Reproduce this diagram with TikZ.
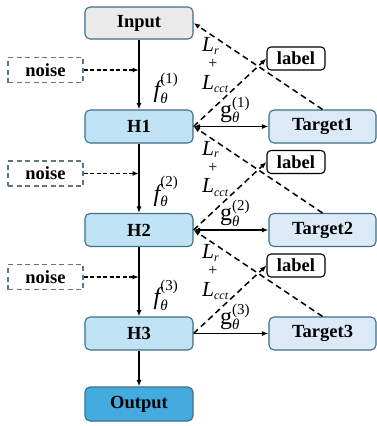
\documentclass[tikz,border=0pt]{standalone}
\usepackage{fontspec}
\setmainfont{Liberation Serif}
\usetikzlibrary{arrows.meta}

\definecolor{boxline}{HTML}{3E6E88}
\definecolor{inputfill}{HTML}{EAEAEA}
\definecolor{hiddenfill}{HTML}{BFE3F4}
\definecolor{targetfill}{HTML}{DCEAF7}
\definecolor{outputfill}{HTML}{44ABDF}
\definecolor{noiseline}{HTML}{5E7685}

% math-like labels set in the text font
\newcommand\bigit[1]{\mbox{\fontsize{24}{24}\selectfont\itshape #1}}
\newcommand\smallup[1]{\mbox{\fontsize{15}{15}\selectfont #1}}
\newcommand\smallit[1]{\mbox{\fontsize{15}{15}\selectfont\itshape #1}}
\newcommand\lossL{\mbox{\fontsize{21.5}{21.5}\selectfont\itshape L}}
\newcommand\lossidx[1]{\mbox{\fontsize{12}{12}\selectfont\itshape #1}}
\newcommand\encsym[1]{$\bigit{f}^{\smallup{(#1)}}_{\smallit{θ}}$}
\newcommand\decsym[1]{$\mbox{\fontsize{24}{24}\selectfont g}^{\smallup{(#1)}}_{\smallit{θ}}$}
\newcommand\lossr{$\lossL_{\lossidx{r}}$}
\newcommand\losscct{$\lossL_{\lossidx{cct}}$}

\tikzset{
  block/.style={draw=boxline, line width=1.1pt, rounded corners=5pt,
    minimum width=108pt, minimum height=33pt, inner sep=0pt,
    font=\fontsize{18.5}{18.5}\selectfont\bfseries},
  inputbox/.style={block, fill=inputfill, minimum height=32pt},
  hiddenbox/.style={block, fill=hiddenfill},
  targetbox/.style={block, fill=targetfill, minimum width=107pt},
  outputbox/.style={block, fill=outputfill, minimum height=34pt},
  noisebox/.style={draw=noiseline, line width=1.1pt, dash pattern=on 5pt off 3.5pt,
    minimum width=75pt, minimum height=25pt, inner sep=0pt,
    font=\fontsize{18.5}{18.5}\selectfont\bfseries},
  labelbox/.style={draw=black, line width=1.1pt, rounded corners=4pt, fill=white,
    minimum width=58pt, minimum height=23pt, inner sep=0pt,
    font=\fontsize{18.5}{18.5}\selectfont\bfseries},
  tip/.style={-{Latex[length=6.5pt,width=5pt]}},
  flow/.style={tip, line width=1.3pt},
  both/.style={{Latex[length=6.5pt,width=5pt]}-{Latex[length=6.5pt,width=5pt]}, line width=1.3pt},
  dashflow/.style={tip, line width=1.5pt, dash pattern=on 6pt off 4pt},
  noiseflow/.style={tip, line width=1.3pt, dash pattern=on 4pt off 2.5pt},
  mathlabel/.style={inner sep=0pt},
  plus/.style={inner sep=0pt, font=\fontsize{16}{16}\selectfont},
}

\begin{document}
\begin{tikzpicture}[x=1pt, y=-1pt]
\useasboundingbox (0,0) rectangle (377,426);

% main chain
\node[inputbox]  (in)  at (139,23)    {Input};
\node[hiddenbox] (h1)  at (139,126.5) {H1};
\node[hiddenbox] (h2)  at (139,230)   {H2};
\node[hiddenbox] (h3)  at (139,333.5) {H3};
\node[outputbox] (out) at (139,404)   {Output};

% targets
\node[targetbox] (t1) at (322.5,126.5) {Target1};
\node[targetbox] (t2) at (322.5,230)   {Target2};
\node[targetbox] (t3) at (322.5,333.5) {Target3};

% noise inputs
\node[noisebox] (n1) at (45.5,70)    {noise};
\node[noisebox] (n2) at (45.5,173.5) {noise};
\node[noisebox] (n3) at (45.5,277)   {noise};

% label boxes
\node[labelbox] (l1) at (296,58.5)  {label};
\node[labelbox] (l2) at (296,162)   {label};
\node[labelbox] (l3) at (296,265.5) {label};

% injection points on the main line
\coordinate (j1) at (in.south |- n1.east);
\coordinate (j2) at (in.south |- n2.east);
\coordinate (j3) at (in.south |- n3.east);

% vertical flow
\draw[flow] (in) -- (h1);
\draw[flow] (h1) -- (h2);
\draw[flow] (h2) -- (h3);
\draw[flow] (h3) -- (out);

% noise arrows
\draw[noiseflow] (n1.east) -- (j1);
\draw[noiseflow] (n2.east) -- (j2);
\draw[noiseflow] (n3.east) -- (j3);

% hidden <-> target
\draw[both] (h1.east) -- (t1.west);
\draw[both] (h2.east) -- (t2.west);
\draw[flow] (h3.east) -- (t3.west);

% reconstruction paths
\draw[dashflow] (t1.north) -- (in.east);
\draw[dashflow] (t2.north) -- (h1.east);
\draw[dashflow] (t3.north) -- (h2.east);

% label paths
\draw[dashflow] (h1.east) -- (l1.west);
\draw[dashflow] (h2.east) -- (l2.west);
\draw[dashflow] (h3.east) -- (l3.west);

% encoder labels
\node[mathlabel] (f1) at (166,88)    {\encsym{1}};
\node[mathlabel] (f2) at (166,191.5) {\encsym{2}};
\node[mathlabel] (f3) at (166,295)   {\encsym{3}};

% decoder labels
\node[mathlabel] (g1) at (235,110)   {\decsym{1}};
\node[mathlabel] (g2) at (235,213.5) {\decsym{2}};
\node[mathlabel] (g3) at (235,317)   {\decsym{3}};

% loss labels
\node[mathlabel, anchor=west] (lr1) at (202,46)    {\lossr};
\node[plus] (p1) at (213,64)    {+};
\node[mathlabel, anchor=west] (lc1) at (202,84)    {\losscct};
\node[mathlabel, anchor=west] (lr2) at (202,149.5) {\lossr};
\node[plus] (p2) at (213,167.5) {+};
\node[mathlabel, anchor=west] (lc2) at (202,187.5) {\losscct};
\node[mathlabel, anchor=west] (lr3) at (202,253)   {\lossr};
\node[plus] (p3) at (213,271)   {+};
\node[mathlabel, anchor=west] (lc3) at (202,291)   {\losscct};
\end{tikzpicture}
\end{document}
